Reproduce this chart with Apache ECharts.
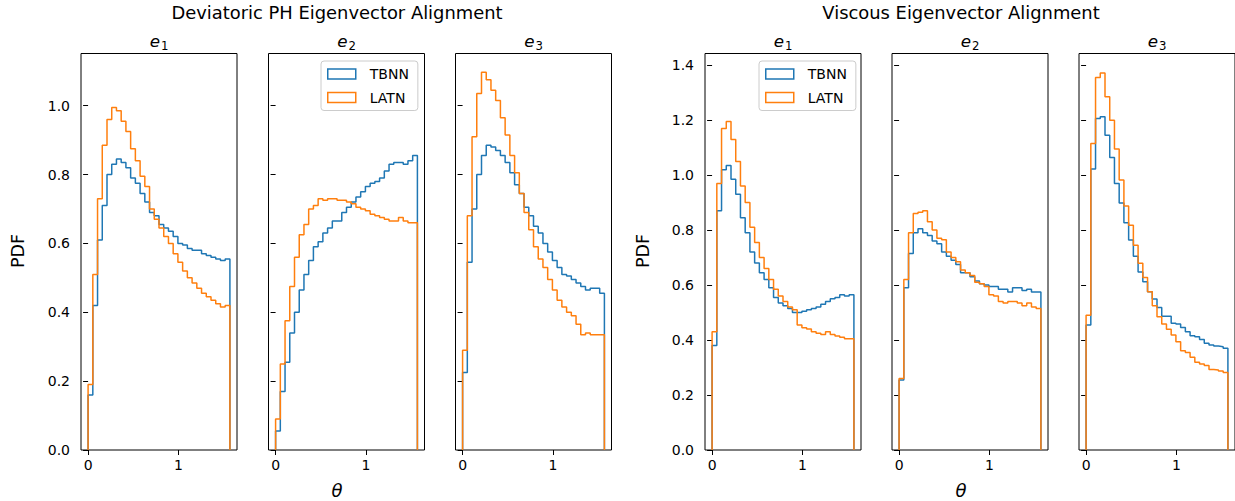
<!DOCTYPE html>
<html><head><meta charset="utf-8">
<script src="https://cdn.jsdelivr.net/npm/echarts@6/dist/echarts.min.js"></script>
<style>html,body{margin:0;padding:0;background:#fff}#c{width:1235px;height:501px}</style>
</head><body><div id="c"></div>
<script>
// ---- data (30 bins over [0, pi/2]) ----
const thetaTicks = [0, 1];
const pdfTicksLeft = [0, 0.2, 0.4, 0.6, 0.8, 1.0];
const pdfTicksRight = [0, 0.2, 0.4, 0.6, 0.8, 1.0, 1.2, 1.4];
const seriesNames = ['TBNN', 'LATN'];
const panelSubs = ['1', '2', '3', '1', '2', '3'];
const groupTitles = ['Deviatoric PH Eigenvector Alignment', 'Viscous Eigenvector Alignment'];

const devE1_TBNN = [0.16,0.42,0.61,0.71,0.80,0.83,0.845,0.835,0.82,0.79,0.775,0.745,0.72,0.69,0.68,0.655,0.645,0.635,0.62,0.60,0.595,0.585,0.58,0.58,0.57,0.565,0.56,0.555,0.55,0.555];
const devE1_LATN = [0.19,0.51,0.73,0.885,0.96,0.995,0.985,0.955,0.925,0.875,0.84,0.795,0.765,0.70,0.67,0.645,0.62,0.60,0.57,0.545,0.52,0.50,0.485,0.47,0.455,0.445,0.435,0.425,0.415,0.42];
const devE2_TBNN = [0.055,0.17,0.255,0.34,0.40,0.465,0.51,0.55,0.59,0.605,0.63,0.645,0.665,0.665,0.69,0.705,0.72,0.735,0.75,0.765,0.775,0.78,0.79,0.81,0.83,0.835,0.835,0.83,0.84,0.855];
const devE2_LATN = [0.09,0.25,0.375,0.475,0.56,0.625,0.655,0.70,0.71,0.73,0.725,0.73,0.73,0.725,0.725,0.72,0.715,0.705,0.70,0.695,0.685,0.68,0.675,0.67,0.665,0.665,0.675,0.665,0.66,0.66];
const devE3_TBNN = [0.225,0.545,0.70,0.80,0.855,0.885,0.88,0.87,0.855,0.835,0.805,0.77,0.745,0.705,0.68,0.65,0.63,0.60,0.575,0.55,0.53,0.51,0.505,0.495,0.485,0.475,0.465,0.47,0.47,0.455];
const devE3_LATN = [0.29,0.68,0.91,1.035,1.097,1.075,1.045,1.015,0.965,0.915,0.855,0.805,0.745,0.69,0.64,0.59,0.555,0.53,0.495,0.465,0.435,0.415,0.40,0.39,0.365,0.335,0.34,0.335,0.335,0.335];
const visE1_TBNN = [0.38,0.87,1.02,1.035,0.985,0.93,0.845,0.79,0.72,0.68,0.645,0.62,0.59,0.555,0.535,0.525,0.515,0.50,0.50,0.505,0.51,0.515,0.52,0.53,0.54,0.55,0.555,0.565,0.56,0.565];
const visE1_LATN = [0.43,0.97,1.17,1.195,1.13,1.05,0.96,0.90,0.81,0.755,0.70,0.66,0.62,0.585,0.56,0.54,0.52,0.51,0.455,0.445,0.44,0.43,0.425,0.42,0.43,0.42,0.415,0.41,0.405,0.405];
const visE2_TBNN = [0.255,0.59,0.715,0.79,0.805,0.79,0.78,0.76,0.75,0.72,0.705,0.69,0.675,0.645,0.645,0.63,0.615,0.605,0.60,0.595,0.595,0.585,0.585,0.575,0.59,0.59,0.58,0.585,0.575,0.575];
const visE2_LATN = [0.26,0.62,0.79,0.86,0.865,0.87,0.83,0.80,0.77,0.765,0.72,0.70,0.685,0.655,0.645,0.635,0.61,0.605,0.595,0.565,0.56,0.54,0.535,0.54,0.54,0.535,0.525,0.535,0.52,0.515];
const visE3_TBNN = [0.455,1.022,1.206,1.212,1.145,1.064,0.97,0.899,0.827,0.764,0.705,0.648,0.612,0.576,0.549,0.518,0.487,0.487,0.461,0.458,0.446,0.43,0.416,0.412,0.402,0.388,0.382,0.378,0.376,0.37];
const visE3_LATN = [0.49,1.115,1.355,1.372,1.285,1.20,1.095,0.982,0.888,0.818,0.745,0.679,0.628,0.576,0.525,0.485,0.458,0.439,0.418,0.394,0.361,0.355,0.337,0.319,0.313,0.307,0.293,0.291,0.287,0.282];

const panelData = [
  [devE1_TBNN, devE1_LATN], [devE2_TBNN, devE2_LATN], [devE3_TBNN, devE3_LATN],
  [visE1_TBNN, visE1_LATN], [visE2_TBNN, visE2_LATN], [visE3_TBNN, visE3_LATN]
];

// ---- layout ----
const colors = ['#1f77b4', '#ff7f0e'];
const FONT = "'DejaVu Sans', sans-serif";
const gridLefts = [81, 268.5, 455.5, 705, 892, 1079];
const GTOP = 53.5, GW = 156, GH = 396.5;
const yMax = [1.1515, 1.4425];
const HALF = Math.PI / 2;
const MARGIN = HALF * 0.05;

function stepData(vals) {
  const w = HALF / vals.length;
  const d = [[0, 0]];
  vals.forEach((v, k) => d.push([k * w, v]));
  d.push([HALF, 0]);
  return d;
}

const grids = [], xAxes = [], yAxes = [], series = [], graphics = [];
gridLefts.forEach((l, i) => {
  const grp = i < 3 ? 0 : 1;
  grids.push({ left: l, top: GTOP, width: GW, height: GH, show: true, borderColor: '#000', borderWidth: 1, backgroundColor: 'transparent' });
  xAxes.push({
    gridIndex: i, type: 'value', min: -MARGIN, max: HALF + MARGIN,
    axisLine: { show: false }, splitLine: { show: false },
    axisTick: { show: true, length: 5, customValues: thetaTicks, lineStyle: { color: '#000', width: 1 } },
    axisLabel: { show: true, customValues: thetaTicks, color: '#000', fontSize: 14, fontFamily: FONT, margin: 8, formatter: v => String(Math.round(v)) }
  });
  const ticks = grp === 0 ? pdfTicksLeft : pdfTicksRight;
  yAxes.push({
    gridIndex: i, type: 'value', min: 0, max: yMax[grp],
    axisLine: { show: false }, splitLine: { show: false },
    axisTick: { show: true, length: 5, customValues: ticks, lineStyle: { color: '#000', width: 1 } },
    axisLabel: { show: (i % 3) === 0, customValues: ticks, color: '#000', fontSize: 14, fontFamily: FONT, margin: 11, formatter: v => v.toFixed(1) }
  });
  panelData[i].forEach((vals, s) => {
    series.push({
      name: seriesNames[s], type: 'line', xAxisIndex: i, yAxisIndex: i,
      data: stepData(vals), step: 'end', symbol: 'none', showSymbol: false,
      lineStyle: { color: colors[s], width: 1.5 }, itemStyle: { color: colors[s] },
      animation: false, z: 2 + s
    });
  });
  // subplot title e_n
  graphics.push({
    type: 'text', x: l + GW / 2, y: 41, silent: true,
    style: {
      text: '{e|e}{s|' + panelSubs[i] + '}', textAlign: 'center', textVerticalAlign: 'middle',
      rich: {
        e: { fontSize: 16.7, fontStyle: 'italic', fontFamily: FONT, fill: '#000' },
        s: { fontSize: 11.7, fontFamily: FONT, fill: '#000', padding: [10, 0, 0, 1] }
      }
    }
  });
});

// group titles, axis labels
const groupCenters = [337, 961];
groupCenters.forEach((cx, g) => {
  graphics.push({ type: 'text', x: cx, y: 12, silent: true,
    style: { text: groupTitles[g], font: '17.9px ' + FONT, fill: '#000', textAlign: 'center', textVerticalAlign: 'middle' } });
  graphics.push({ type: 'text', x: cx, y: 490, silent: true,
    style: { text: 'θ', font: 'italic 18px ' + FONT, fill: '#000', textAlign: 'center', textVerticalAlign: 'middle' } });
});
[18, 643].forEach(x => {
  graphics.push({ type: 'text', x: x, y: 251, rotation: Math.PI / 2, silent: true,
    style: { text: 'PDF', font: '17.5px ' + FONT, fill: '#000', textAlign: 'center', textVerticalAlign: 'middle' } });
});

const legendData = seriesNames.map((n, s) => ({ name: n, icon: 'rect', itemStyle: { color: 'rgba(0,0,0,0)', borderColor: colors[s], borderWidth: 1.5 } }));
function legendAt(left) {
  return {
    left: left, top: 61, orient: 'vertical', data: legendData,
    itemWidth: 28, itemHeight: 10, itemGap: 9.5, selectedMode: false,
    padding: [6, 9, 6, 6], backgroundColor: 'rgba(255,255,255,0.8)', borderColor: '#cccccc', borderWidth: 1, borderRadius: 3,
    textStyle: { fontSize: 14, fontFamily: FONT, color: '#000', padding: [0, 0, 0, 9] }
  };
}

const chart = echarts.init(document.getElementById('c'), null, { renderer: 'svg', width: 1235, height: 501 });
chart.setOption({
  backgroundColor: '#fff',
  animation: false,
  grid: grids, xAxis: xAxes, yAxis: yAxes, series: series,
  legend: [legendAt(321), legendAt(759)],
  graphic: graphics
});
</script></body></html>
